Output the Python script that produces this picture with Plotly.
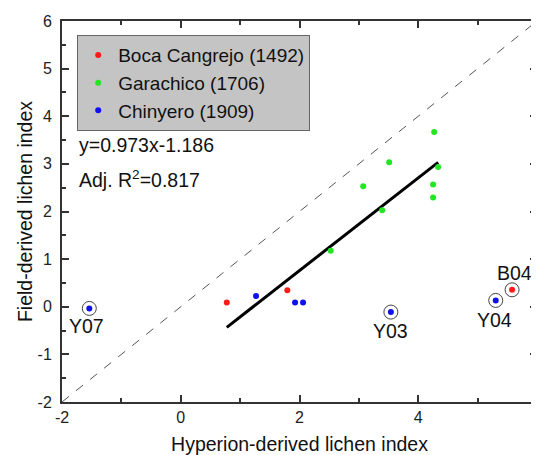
import plotly.graph_objects as go

# ---- data ----
boca_x = [0.775, 1.795]
boca_y = [0.091, 0.349]
gara_x = [4.268, 3.51, 4.335, 4.25, 4.25, 3.393, 3.073, 2.525]
gara_y = [3.671, 3.035, 2.937, 2.567, 2.295, 2.028, 2.532, 1.174]
chin_x = [1.268, 1.925, 2.06]
chin_y = [0.224, 0.091, 0.091]

out_names = ["Y07", "Y03", "Y04", "B04"]
out_x = [-1.54, 3.539, 5.305, 5.58]
out_y = [-0.035, -0.112, 0.133, 0.356]
out_group = ["chin", "chin", "chin", "boca"]

slope = 0.973
intercept = -1.186
fit_x = [0.775, 4.335]
one_to_one = [-2, 6]

x_ticks = [-2, 0, 2, 4, 6]
y_ticks = [-2, -1, 0, 1, 2, 3, 4, 5, 6]

RED = "#ff1a1a"
GREEN = "#22e622"
BLUE = "#1010ee"
FONT = "Liberation Sans, Arial, sans-serif"
TXT = 19.5
colors = {"boca": RED, "gara": GREEN, "chin": BLUE}

fig = go.Figure()

# 1:1 line
fig.add_trace(go.Scatter(x=one_to_one, y=one_to_one, mode="lines",
                         line=dict(color="#555555", width=1, dash="dash"),
                         showlegend=False, hoverinfo="skip"))
# regression line
fig.add_trace(go.Scatter(x=fit_x, y=[slope * v + intercept for v in fit_x], mode="lines",
                         line=dict(color="black", width=3), showlegend=False))

ms = 6
fig.add_trace(go.Scatter(x=boca_x, y=boca_y, mode="markers", name="Boca Cangrejo (1492)",
                         marker=dict(color=RED, size=ms)))
fig.add_trace(go.Scatter(x=gara_x, y=gara_y, mode="markers", name="Garachico (1706)",
                         marker=dict(color=GREEN, size=ms)))
fig.add_trace(go.Scatter(x=chin_x, y=chin_y, mode="markers", name="Chinyero (1909)",
                         marker=dict(color=BLUE, size=ms)))

# outliers: filled dot + open ring
fig.add_trace(go.Scatter(x=out_x, y=out_y, mode="markers", showlegend=False,
                         marker=dict(color=[colors[g] for g in out_group], size=ms)))
fig.add_trace(go.Scatter(x=out_x, y=out_y, mode="markers", showlegend=False,
                         marker=dict(symbol="circle-open", color="#444444", size=14,
                                     line=dict(width=1))))

offsets = {"Y07": (-3, -18), "Y03": (0, -19), "Y04": (-1, -20), "B04": (2, 17)}
for n, xx, yy in zip(out_names, out_x, out_y):
    dx, dy = offsets[n]
    fig.add_annotation(x=xx, y=yy, text=n, showarrow=False, xshift=dx, yshift=dy,
                       font=dict(family=FONT, size=TXT, color="#111111"))

fig.add_annotation(xref="paper", yref="paper", x=0.032, y=0.674, xanchor="left", yanchor="middle",
                   text="y=%.3fx%.3f" % (slope, intercept), showarrow=False,
                   font=dict(family=FONT, size=TXT, color="#111111"))
fig.add_annotation(xref="paper", yref="paper", x=0.032, y=0.586, xanchor="left", yanchor="middle",
                   text="Adj. R<sup>2</sup>=0.817", showarrow=False,
                   font=dict(family=FONT, size=TXT, color="#111111"))

axis_common = dict(showline=True, linecolor="#333333", linewidth=2, mirror="allticks",
                   ticks="inside", ticklen=7, tickwidth=1.5, tickcolor="#333333",
                   showgrid=False, zeroline=False, automargin=False,
                   ticklabeloverflow="allow",
                   tickfont=dict(family=FONT, size=16, color="#222222"))

fig.update_xaxes(range=[-2, 6], tickvals=x_ticks, ticktext=[str(v) for v in x_ticks],
                 minor=dict(dtick=1, ticks="inside", ticklen=4, tickcolor="#333333", tickwidth=1.5),
                 title=dict(text="Hyperion-derived lichen index", standoff=22,
                            font=dict(family=FONT, size=TXT, color="#111111")),
                 **axis_common)
fig.update_yaxes(range=[-2, 6], tickvals=y_ticks, ticktext=[str(v) for v in y_ticks],
                 minor=dict(dtick=0.5, ticks="inside", ticklen=4, tickcolor="#333333", tickwidth=1.5),
                 ticklabelstandoff=5,
                 title=dict(text="Field-derived lichen index", standoff=0,
                            font=dict(family=FONT, size=TXT, color="#111111")),
                 **axis_common)

# the page body adds an 8px offset; size the figure so the plot area lands where the reference has it
fig.update_layout(width=531, height=447, margin=dict(l=54, r=2, t=13, b=53),
                  plot_bgcolor="white", paper_bgcolor="white",
                  font=dict(family=FONT),
                  legend=dict(x=0.032, y=0.963, xanchor="left", yanchor="top",
                              bgcolor="#c4c4c4", bordercolor="#666666", borderwidth=1,
                              font=dict(family=FONT, size=19, color="#111111"),
                              itemwidth=30, tracegroupgap=0))

fig.write_html("out.html")
